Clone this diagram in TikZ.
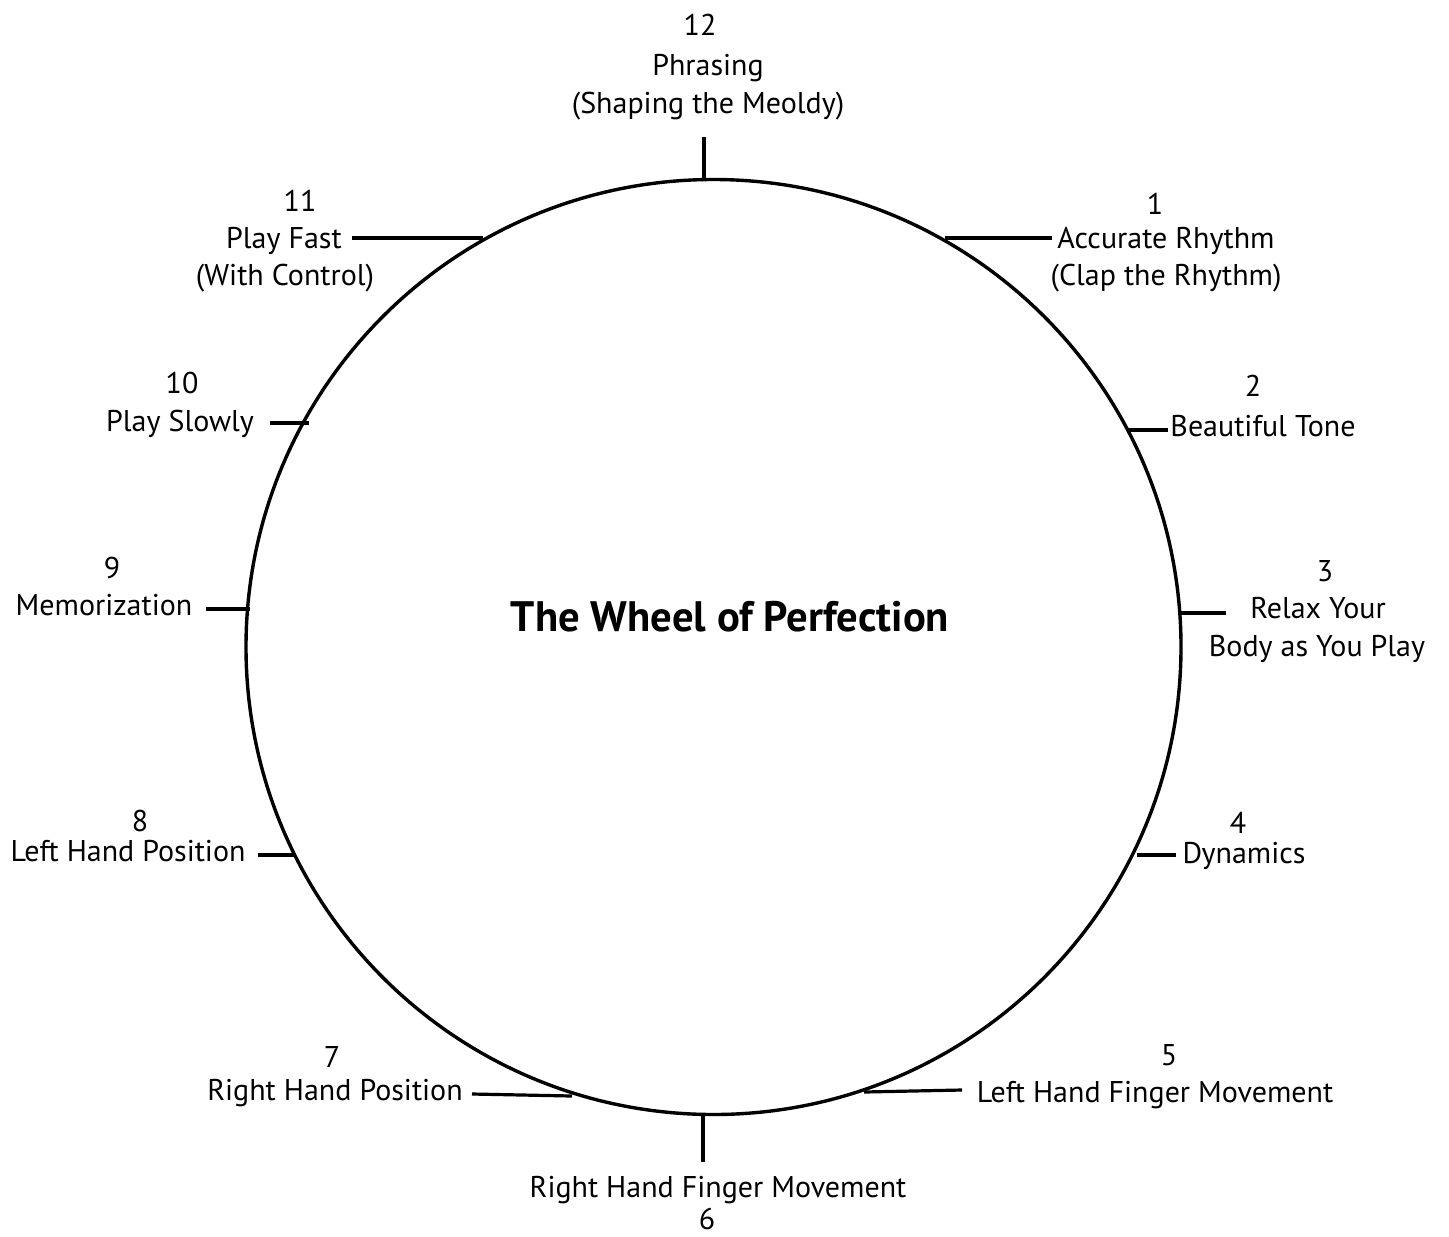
\documentclass[tikz,border=0pt]{standalone}
\usepackage{fontspec}
\setmainfont{PT Sans}
\begin{document}
\begin{tikzpicture}[x=0.5pt,y=-0.5pt,
  lbl/.style={font=\fontsize{15}{19}\selectfont, inner sep=0pt, text height=1.5ex, text depth=0.25ex, anchor=center, yshift=-2pt},
  ttl/.style={font=\bfseries\fontsize{21.3}{25}\selectfont, inner sep=0pt, text height=1.5ex, text depth=0.25ex, anchor=center, yshift=-3pt},
  tickln/.style={line width=1.6pt},
  wheelln/.style={line width=1.7pt}]
\useasboundingbox (0,0) rectangle (1449,1236);
% wheel
\draw[wheelln] (713.5,647) circle[radius=467.5];
\node[ttl] (title) at (730,619) {The Wheel of Perfection};
% 12
\node[lbl] (n12) at (700,25) {12};
\node[lbl] (l12a) at (708,65) {Phrasing};
\node[lbl] (l12b) at (708,103) {(Shaping the Meoldy)};
\coordinate (a12) at (704,137); \coordinate (b12) at (704,181);
\draw[tickln] (a12) -- (b12);
% 1
\node[lbl] (n1) at (1155,204) {1};
\node[lbl] (l1a) at (1166,238) {Accurate Rhythm};
\node[lbl] (l1b) at (1166,275) {(Clap the Rhythm)};
\coordinate (a1) at (945,238); \coordinate (b1) at (1052,238);
\draw[tickln] (a1) -- (b1);
% 11
\node[lbl] (n11) at (300,201) {11};
\node[lbl] (l11a) at (284,238) {Play Fast};
\node[lbl] (l11b) at (285,275) {(With Control)};
\coordinate (a11) at (352,238); \coordinate (b11) at (483,238);
\draw[tickln] (a11) -- (b11);
% 10
\node[lbl] (n10) at (182,383) {10};
\node[lbl] (l10) at (180,421) {Play Slowly};
\coordinate (a10) at (270,423); \coordinate (b10) at (309,423);
\draw[tickln] (a10) -- (b10);
% 2
\node[lbl] (n2) at (1253,386) {2};
\node[lbl] (l2) at (1263,426) {Beautiful Tone};
\coordinate (a2) at (1128,430); \coordinate (b2) at (1168,430);
\draw[tickln] (a2) -- (b2);
% 9
\node[lbl] (n9) at (112,568) {9};
\node[lbl] (l9) at (104,605) {Memorization};
\coordinate (a9) at (206,609); \coordinate (b9) at (250,609);
\draw[tickln] (a9) -- (b9);
% 3
\node[lbl] (n3) at (1325,571) {3};
\node[lbl] (l3a) at (1318,608) {Relax Your};
\node[lbl] (l3b) at (1317,646) {Body as You Play};
\coordinate (a3) at (1181,613); \coordinate (b3) at (1226,613);
\draw[tickln] (a3) -- (b3);
% 8
\node[lbl] (n8) at (140,821) {8};
\node[lbl] (l8) at (128,851) {Left Hand Position};
\coordinate (a8) at (258,855); \coordinate (b8) at (295,855);
\draw[tickln] (a8) -- (b8);
% 4
\node[lbl] (n4) at (1238,823) {4};
\node[lbl] (l4) at (1244,853) {Dynamics};
\coordinate (a4) at (1137,855); \coordinate (b4) at (1176,855);
\draw[tickln] (a4) -- (b4);
% 7
\node[lbl] (n7) at (332,1057) {7};
\node[lbl] (l7) at (335,1090) {Right Hand Position};
\coordinate (a7) at (472,1094); \coordinate (b7) at (572,1096);
\draw[tickln] (a7) -- (b7);
% 5
\node[lbl] (n5) at (1169,1055) {5};
\node[lbl] (l5) at (1155,1092) {Left Hand Finger Movement};
\coordinate (a5) at (864,1092); \coordinate (b5) at (962,1090);
\draw[tickln] (a5) -- (b5);
% 6
\node[lbl] (l6) at (718,1187) {Right Hand Finger Movement};
\node[lbl] (n6) at (707,1219) {6};
\coordinate (a6) at (703,1115); \coordinate (b6) at (703,1162);
\draw[tickln] (a6) -- (b6);
\end{tikzpicture}
\end{document}
